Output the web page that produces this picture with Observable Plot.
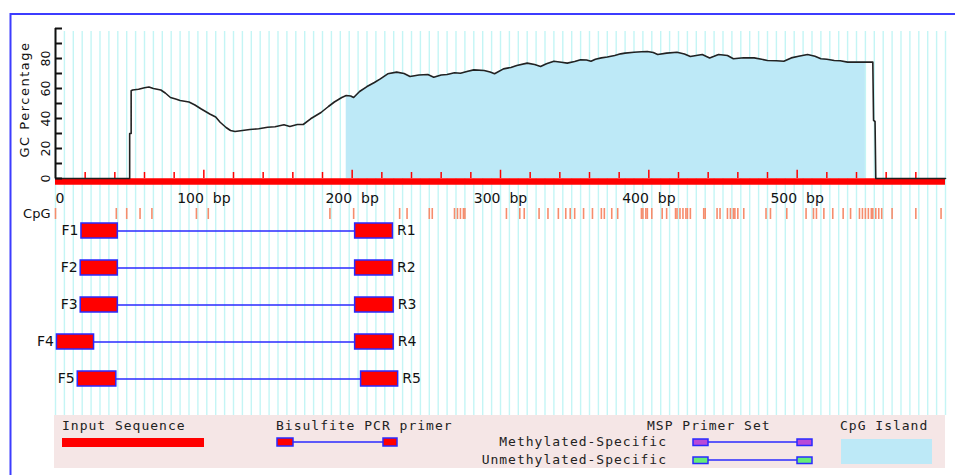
<!DOCTYPE html>
<html>
<head>
<meta charset="utf-8">
<script src="https://cdn.jsdelivr.net/npm/d3@7"></script>
<script src="https://cdn.jsdelivr.net/npm/@observablehq/plot@0.6"></script>
<style>
  html, body { margin: 0; padding: 0; background: #fff; }
  #chart { position: relative; width: 955px; height: 475px; overflow: hidden; background: #fff; }
  #chart > svg { position: absolute; left: 0; top: 0; }
</style>
</head>
<body>
<div id="chart"></div>
<script>
// ---------------- data ----------------
const seqLength = 600;
const islandStart = 196;
const islandEnd = 546;

const gcPos = [0, 50, 50, 51, 51, 52, 56, 60, 63, 66, 71, 74, 77.5, 81, 84, 90, 94, 98, 104, 108, 111, 115, 118, 121, 126, 131, 137, 143, 148, 154, 158, 163, 167, 172, 179, 184, 188, 193, 196, 199, 201, 205, 210, 215, 219, 224, 230, 235, 239, 245, 251, 255, 260, 264, 269, 273, 278, 282, 289, 293, 296, 302, 307, 311, 318, 323, 327, 331, 336, 341, 345, 350, 354, 358, 361, 364, 368, 372, 377, 381, 384, 390, 395, 399, 403, 406, 412, 419, 424, 428, 432, 436, 441, 444, 447, 453, 457, 464, 471, 476, 480, 486, 491, 496, 501, 507, 512, 516, 520, 525, 529, 534, 538, 543, 546, 551, 551.5, 552.5, 553, 600];
const gcVal = [0, 0, 30, 30, 58.5, 59, 59.5, 60.5, 61, 60, 59, 57, 54, 53, 52, 51, 49, 46.5, 43, 41, 37.5, 34, 32, 31.3, 32, 32.7, 33.2, 34.2, 34.5, 35.8, 34.7, 36, 36, 39.8, 44, 48, 51, 54, 55.3, 55, 54, 58, 61.3, 64, 66.4, 69.8, 70.9, 70, 68, 69, 69.3, 67.5, 69, 69.3, 70.5, 70.2, 71.5, 72.4, 72, 71, 69.8, 73.1, 74, 75.3, 76.9, 76, 74.7, 76.5, 78.2, 77.5, 76.9, 78, 79.1, 79, 78.2, 79.5, 80.4, 81, 82, 83.1, 83.6, 84.2, 84.5, 84.7, 84, 82.7, 83.6, 84.2, 83, 81.3, 82, 82.7, 80.4, 81.5, 82.7, 82, 79.8, 80.5, 80.4, 79.5, 78.7, 78.5, 78.2, 80.4, 81.5, 82.7, 81.5, 79.8, 79.5, 78.7, 78.5, 77.6, 77.6, 77.6, 77.6, 77.6, 38.7, 38, 0, 0];

const cpgSites = [0, 41, 48, 57, 65, 95, 103, 185, 201, 232, 237, 252, 254, 269, 271, 273, 275, 276, 304, 313, 316, 326, 332, 339, 344, 347, 350, 356, 362, 368, 370, 375, 379, 395, 396, 398, 399, 402, 409, 412, 418, 419, 421, 423, 425, 426, 428, 437, 438, 446, 448, 453, 455, 457, 458, 460, 464, 479, 482, 493, 506, 511, 513, 518, 524, 531, 536, 542, 544, 546, 548, 550, 551, 553, 555, 557, 564, 580, 597];

const primerIds = ["1", "2", "3", "4", "5"];
const fwdStart = [17.5, 17, 17, 1, 15];
const fwdEnd   = [42, 42, 42, 26, 41];
const revStart = [202, 202, 202, 202, 206];
const revEnd   = [227.5, 227.5, 228, 228, 231];

const yTickValues = [0, 10, 20, 30, 40, 50, 60, 70, 80, 90, 100];
const yTickLabels = [0, 20, 40, 60, 80];
const xTickLabels = [0, 100, 200, 300, 400, 500];
const yTitle = "GC Percentage";

const legendInput = "Input Sequence";
const legendBisulfite = "Bisulfite PCR primer";
const legendMSP = "MSP Primer Set";
const legendMeth = "Methylated-Specific";
const legendUnmeth = "Unmethylated-Specific";
const legendIsland = "CpG Island";

// ---------------- build ----------------
const W = 955, H = 475;
const gcData = gcPos.map((p, i) => ({pos: p, gc: gcVal[i]}));
const primers = primerIds.map((id, i) => ({id, fs: fwdStart[i], fe: fwdEnd[i], rs: revStart[i], re: revEnd[i]}));

const islandColor = "#bde9f7";
const primerBlue = "#2a2aff";
const font = "DejaVu Sans, Verdana, sans-serif";
const xCommon = {domain: [0, seqLength], axis: null};
const chart = document.getElementById("chart");

// grid layer
const grid = Plot.plot({
  width: W, height: H,
  marginLeft: 55, marginRight: 10, marginTop: 31, marginBottom: 60,
  x: xCommon,
  style: {background: "#fff"},
  marks: [
    Plot.ruleX(d3.range(0, seqLength + 1, 6), {stroke: "#c4f5f5", strokeWidth: 1.4})
  ]
});
chart.appendChild(grid);

// GC content chart
const gc = Plot.plot({
  width: W, height: H,
  marginLeft: 55, marginRight: 10, marginTop: 28, marginBottom: 297,
  x: xCommon,
  y: {domain: [0, 100], axis: null},
  style: {background: "transparent", fontFamily: font, color: "#111", overflow: "visible"},
  marks: [
    Plot.areaY(gcData.filter(d => d.pos >= islandStart && d.pos <= islandEnd), {x: "pos", y: "gc", fill: islandColor}),
    Plot.ruleY([0], {x1: 0, x2: seqLength, dy: 3, stroke: "#ff0000", strokeWidth: 6.5}),
    Plot.ruleX(d3.range(20, seqLength, 20), {y1: 0, y2: d => d % 100 === 0 ? 5.5 : 4, stroke: "#ff0000", strokeWidth: 1.5}),
    Plot.lineY(gcData, {x: "pos", y: "gc", stroke: "#222", strokeWidth: 1.6}),
    Plot.ruleX([0], {y1: 0, y2: 100, stroke: "#111", strokeWidth: 2}),
    Plot.ruleY(yTickValues, {x1: 0, x2: 4.7, stroke: "#111", strokeWidth: 2}),
    Plot.text(yTickLabels, {x: 0, y: d => d, text: d => String(d), rotate: -90, dx: -10, fontSize: 12.5, fill: "#111"}),
    Plot.text([yTitle], {frameAnchor: "left", textAnchor: "middle", rotate: -90, dx: -31, dy: -4, fontSize: 13, fill: "#111"}),
    Plot.text(xTickLabels.filter(d => d === 0), {x: d => d, y: 0, text: d => String(d), textAnchor: "start", dx: 0, dy: 20, fontSize: 14, fill: "#111"}),
    Plot.text(xTickLabels.filter(d => d !== 0), {x: d => d, y: 0, text: d => `${d}\u00a0\u00a0bp`, dy: 20, fontSize: 14, fill: "#111"})
  ]
});
gc.querySelectorAll("text").forEach(t => { if (t.textContent === yTitle) t.style.letterSpacing = "1.5px"; });
chart.appendChild(gc);

// CpG site track
const cpg = Plot.plot({
  width: W, height: H,
  marginLeft: 55, marginRight: 10, marginTop: 208, marginBottom: 256,
  x: xCommon,
  style: {background: "transparent", fontFamily: font, color: "#111", overflow: "visible"},
  marks: [
    Plot.ruleX(cpgSites, {stroke: "#f68c6c", strokeWidth: 1.6}),
    Plot.text(["CpG"], {frameAnchor: "left", textAnchor: "end", dx: -5, fontSize: 13, fill: "#111"})
  ]
});
chart.appendChild(cpg);

// primer track
const pr = Plot.plot({
  width: W, height: H,
  marginLeft: 55, marginRight: 10,
  x: xCommon,
  y: {type: "band", domain: primerIds, range: [211.5, 396.5], paddingInner: 0.5946, paddingOuter: 0.2973, axis: null},
  style: {background: "transparent", fontFamily: font, color: "#111", overflow: "visible"},
  marks: [
    Plot.ruleY(primers, {y: "id", x1: "fe", x2: "rs", stroke: primerBlue, strokeWidth: 1.6}),
    Plot.barX(primers, {y: "id", x1: "fs", x2: "fe", fill: "#ff0000", stroke: primerBlue, strokeWidth: 1.5}),
    Plot.barX(primers, {y: "id", x1: "rs", x2: "re", fill: "#ff0000", stroke: primerBlue, strokeWidth: 1.5}),
    Plot.text(primers, {x: "fs", y: "id", text: d => "F" + d.id, textAnchor: "end", dx: -3, fontSize: 14, fill: "#111"}),
    Plot.text(primers, {x: "re", y: "id", text: d => "R" + d.id, textAnchor: "start", dx: 4, fontSize: 14, fill: "#111"})
  ]
});
chart.appendChild(pr);

// legend + frame
const svg = d3.select(chart).append("svg").attr("width", W).attr("height", H);
svg.append("rect").attr("x", 54).attr("y", 415).attr("width", 891).attr("height", 53).attr("fill", "#f5e6e6");
const mono = svg.append("g").attr("font-family", "DejaVu Sans Mono, monospace").attr("font-size", 13)
  .attr("fill", "#222").style("letter-spacing", "1px");
mono.append("text").attr("x", 62).attr("y", 430).text(legendInput);
svg.append("rect").attr("x", 62).attr("y", 438).attr("width", 142).attr("height", 9).attr("fill", "#ff0000");

mono.append("text").attr("x", 276).attr("y", 430).text(legendBisulfite);
svg.append("line").attr("x1", 293).attr("x2", 383).attr("y1", 442).attr("y2", 442).attr("stroke", primerBlue).attr("stroke-width", 1.5);
[[277, 293], [383, 397]].forEach(([a, b]) =>
  svg.append("rect").attr("x", a).attr("y", 438).attr("width", b - a).attr("height", 8)
    .attr("fill", "#ff0000").attr("stroke", primerBlue).attr("stroke-width", 1.5));

mono.append("text").attr("x", 647).attr("y", 430).text(legendMSP);
mono.append("text").attr("x", 667).attr("y", 446).attr("text-anchor", "end").text(legendMeth);
mono.append("text").attr("x", 667).attr("y", 464).attr("text-anchor", "end").text(legendUnmeth);
[[442, "#b84ad8"], [460, "#66ee77"]].forEach(([cy, col]) => {
  svg.append("line").attr("x1", 708).attr("x2", 797).attr("y1", cy).attr("y2", cy).attr("stroke", primerBlue).attr("stroke-width", 1.5);
  [[693, 708], [797, 812]].forEach(([a, b]) =>
    svg.append("rect").attr("x", a).attr("y", cy - 3).attr("width", b - a).attr("height", 6.5)
      .attr("fill", col).attr("stroke", primerBlue).attr("stroke-width", 1.5));
});

mono.append("text").attr("x", 840).attr("y", 430).text(legendIsland);
svg.append("rect").attr("x", 841).attr("y", 439).attr("width", 91).attr("height", 25).attr("fill", islandColor);

svg.append("path").attr("d", "M10.5,475V14H955").attr("fill", "none").attr("stroke", "#3c3cff").attr("stroke-width", 2);
</script>
</body>
</html>
